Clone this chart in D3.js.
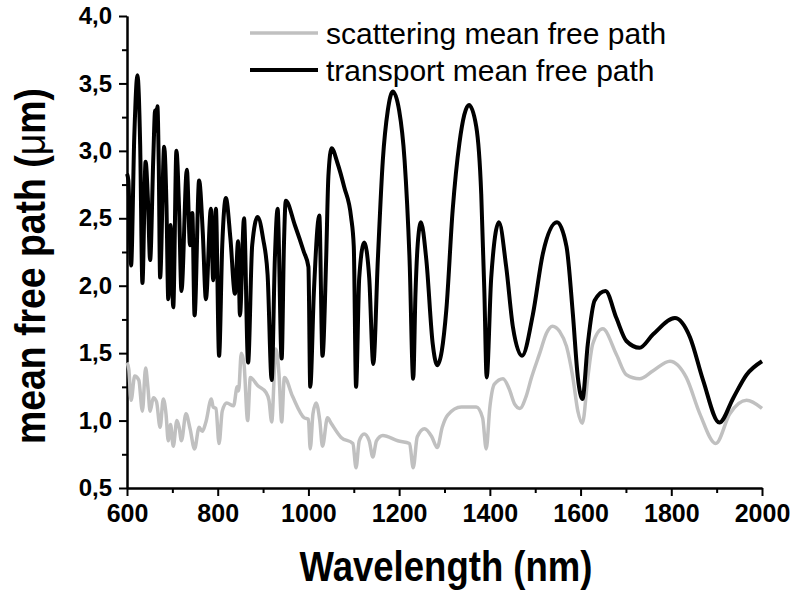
<!DOCTYPE html>
<html>
<head>
	<script src="https://cdnjs.cloudflare.com/ajax/libs/d3/7.8.5/d3.min.js"></script>
	<style>
		body {
			margin: 0 ;
			background: #ffffff ;
		}
		svg {
			display: block ;
			font-family: "Liberation Sans", Arial, sans-serif ;
		}
	</style>
</head>
<body>
	<svg id="chart"></svg>
<script>
	// wavelength (nm) and mean free path (um)
	let transportNm = [
		600, 603, 609, 616, 623, 629, 634, 641, 646, 651, 658, 662, 664, 667, 670, 673,
		682, 687, 691, 696, 702, 709, 715, 720, 732, 739, 744, 749, 759, 767, 774, 785,
		790, 796, 803, 810, 818, 828, 838, 845, 849, 858, 867, 876, 888, 900, 910, 919,
		926, 932, 941, 946, 950, 970, 990, 1000, 1004, 1012, 1024, 1031, 1039, 1044, 1051,
		1064, 1079, 1094, 1100, 1105, 1112, 1123, 1134, 1143, 1153, 1164, 1175, 1186, 1200,
		1212, 1223, 1231, 1236, 1241, 1248, 1260, 1274, 1284, 1304, 1318, 1333, 1354, 1370,
		1381, 1388, 1393, 1403, 1420, 1436, 1451, 1471, 1495, 1517, 1548, 1569, 1583, 1594,
		1604, 1616, 1631, 1655, 1679, 1701, 1730, 1760, 1808, 1841, 1870, 1906, 1937, 1966, 2000
	] ;
	let transportMfp = [
		2.83, 2.78, 2.15, 3.10, 3.56, 3.05, 2.02, 2.92, 2.65, 2.19, 2.95, 3.30, 3.15, 3.33, 2.90, 2.06,
		3.03, 2.60, 1.90, 2.45, 1.84, 3.00, 2.55, 1.96, 2.86, 2.30, 2.54, 1.78, 2.78, 2.40, 1.90, 2.57,
		2.04, 2.57, 1.48, 2.30, 2.65, 2.35, 1.94, 2.33, 1.78, 2.50, 1.43, 2.30, 2.51, 2.35, 2.08, 1.30,
		2.20, 2.57, 1.46, 2.30, 2.63, 2.45, 2.25, 2.14, 1.25, 1.95, 2.52, 1.48, 2.19, 2.81, 3.02,
		2.91, 2.73, 2.51, 2.29, 1.25, 2.06, 2.32, 2.06, 1.42, 2.19, 2.93, 3.30, 3.44, 3.30,
		2.93, 2.19, 1.31, 1.94, 2.31, 2.47, 2.19, 1.57, 1.41, 1.82, 2.56, 3.06, 3.34, 3.18,
		2.68, 1.94, 1.32, 2.06, 2.47, 2.14, 1.69, 1.48, 1.79, 2.24, 2.47, 2.29, 1.79, 1.32,
		1.16, 1.57, 1.89, 1.96, 1.76, 1.59, 1.54, 1.64, 1.76, 1.62, 1.30, 0.985, 1.17, 1.34, 1.44
	] ;

	let scatteringNm = [
		600, 604, 609, 617, 626, 634, 641, 646, 651, 658, 665, 673, 680, 686, 691, 696,
		702, 710, 715, 720, 730, 739, 749, 759, 766, 774, 786, 790, 796, 803, 810, 820,
		835, 843, 846, 852, 858, 866, 872, 888, 906, 913, 919, 928, 935, 941, 947, 965,
		991, 1000, 1004, 1010, 1017, 1025, 1031, 1042, 1050, 1072, 1098, 1105, 1112, 1123,
		1134, 1142, 1150, 1164, 1197, 1223, 1231, 1240, 1256, 1272, 1284, 1295, 1307, 1337,
		1370, 1384, 1392, 1400, 1410, 1429, 1442, 1455, 1466, 1480, 1491, 1510, 1525, 1538,
		1554, 1569, 1583, 1594, 1604, 1616, 1627, 1649, 1679, 1701, 1730, 1760, 1797, 1833,
		1863, 1898, 1929, 1966, 2000
	] ;
	let scatteringMfp = [
		1.43, 1.38, 1.15, 1.33, 1.30, 1.07, 1.39, 1.25, 1.07, 1.17, 1.14, 0.95, 1.16, 1.05, 0.85, 0.97,
		0.81, 1.00, 0.95, 0.85, 1.05, 0.94, 0.79, 0.95, 0.92, 0.99, 1.16, 1.10, 1.09, 0.83, 1.07, 1.13,
		1.11, 1.25, 1.22, 1.50, 1.42, 1.00, 1.32, 1.26, 1.21, 1.15, 0.99, 1.53, 1.35, 0.99, 1.32, 1.18,
		1.02, 1.01, 0.79, 1.05, 1.13, 1.00, 0.81, 1.02, 0.98, 0.875, 0.83, 0.65, 0.85, 0.90,
		0.85, 0.73, 0.85, 0.89, 0.85, 0.83, 0.65, 0.88, 0.94, 0.88, 0.80, 0.95, 1.04, 1.10,
		1.10, 1.02, 0.79, 1.10, 1.27, 1.31, 1.24, 1.12, 1.09, 1.18, 1.31, 1.50, 1.65, 1.70,
		1.66, 1.55, 1.32, 1.07, 0.98, 1.32, 1.57, 1.68, 1.49, 1.34, 1.31, 1.37, 1.44, 1.32,
		1.05, 0.83, 1.05, 1.15, 1.09
	] ;

	let xMajorTicks = [600, 800, 1000, 1200, 1400, 1600, 1800, 2000] ;
	let xMinorTicks = [700, 900, 1100, 1300, 1500, 1700, 1900] ;
	let yMajorTicks = [0.5, 1.0, 1.5, 2.0, 2.5, 3.0, 3.5, 4.0] ;
	let yMinorTicks = [0.75, 1.25, 1.75, 2.25, 2.75, 3.25, 3.75] ;

	let seriesNames = [ 'scattering mean free path', 'transport mean free path' ] ;
	let seriesColors = [ '#c0c0c0', '#000000' ] ;
</script>
<script>
	let geom = {
		width: 791,
		height: 592,
		left: 127,
		right: 762,
		top: 16,
		bottom: 488
	} ;

	let scales = {
		x: d3.scaleLinear()
			.domain( [600, 2000] )
			.range( [ geom.left, geom.right ] ),
		y: d3.scaleLinear()
			.domain( [0.5, 4.0] )
			.range( [ geom.bottom, geom.top ] )
	} ;

	// comma as decimal separator
	let fmt = d3.formatLocale( {
		decimal: ',', thousands: '.', grouping: [3], currency: ['', '']
	} ).format( '.1f' ) ;

	let svg = d3.select( '#chart' )
		.attr( 'width', geom.width )
		.attr( 'height', geom.height ) ;

	// minor ticks first, then the major axes on top
	svg.append( 'g' )
		.attr( 'transform', 'translate(0,' + geom.bottom + ')' )
		.call( d3.axisBottom( scales.x ).tickValues( xMinorTicks ).tickSize( 5 ).tickSizeOuter( 0 ).tickFormat( '' ) ) ;
	svg.append( 'g' )
		.attr( 'transform', 'translate(' + geom.left + ',0)' )
		.call( d3.axisLeft( scales.y ).tickValues( yMinorTicks ).tickSize( 5 ).tickSizeOuter( 0 ).tickFormat( '' ) ) ;

	let xaxis = svg.append( 'g' )
		.attr( 'class', 'xaxis' )
		.attr( 'transform', 'translate(0,' + geom.bottom + ')' )
		.call( d3.axisBottom( scales.x ).tickValues( xMajorTicks ).tickSize( 8 ).tickSizeOuter( 0 ).tickPadding( 8 ).tickFormat( d3.format( 'd' ) ) ) ;
	let yaxis = svg.append( 'g' )
		.attr( 'class', 'yaxis' )
		.attr( 'transform', 'translate(' + geom.left + ',0)' )
		.call( d3.axisLeft( scales.y ).tickValues( yMajorTicks ).tickSize( 8 ).tickSizeOuter( 0 ).tickPadding( 7 ).tickFormat( fmt ) ) ;

	svg.selectAll( '.domain, .tick line' )
		.attr( 'stroke', '#000' )
		.attr( 'stroke-width', 2 ) ;
	svg.selectAll( '.tick text' )
		.attr( 'fill', '#000' )
		.style( 'font-weight', 'bold' ) ;
	xaxis.selectAll( '.tick text' )
		.style( 'font-size', '25px' ) ;
	yaxis.selectAll( '.tick text' )
		.style( 'font-size', '24px' ) ;

	// curves
	let line = d3.line()
		.x( d => scales.x( d[0] ) )
		.y( d => scales.y( d[1] ) )
		.curve( d3.curveMonotoneX ) ;

	let scattering = d3.zip( scatteringNm, scatteringMfp ) ;
	let transport = d3.zip( transportNm, transportMfp ) ;

	svg.append( 'path' )
		.datum( scattering )
		.attr( 'fill', 'none' )
		.attr( 'stroke', seriesColors[0] )
		.attr( 'stroke-width', 3.5 )
		.attr( 'stroke-linejoin', 'round' )
		.attr( 'd', line ) ;

	svg.append( 'path' )
		.datum( transport )
		.attr( 'fill', 'none' )
		.attr( 'stroke', seriesColors[1] )
		.attr( 'stroke-width', 4 )
		.attr( 'stroke-linejoin', 'round' )
		.attr( 'd', line ) ;

	// legend
	let legend = svg.append( 'g' )
		.attr( 'transform', 'translate(250,33)' ) ;
	seriesNames.forEach( function( name, i ) {
		legend.append( 'line' )
			.attr( 'x1', 0 ).attr( 'x2', 68 )
			.attr( 'y1', i * 37 ).attr( 'y2', i * 37 )
			.attr( 'stroke', seriesColors[i] )
			.attr( 'stroke-width', i == 0 ? 3.5 : 4 ) ;
		legend.append( 'text' )
			.attr( 'x', 76 )
			.attr( 'y', i * 37 + 11 )
			.style( 'font-size', '30px' )
			.text( name ) ;
	} ) ;

	// axis titles
	svg.append( 'text' )
		.attr( 'transform', 'translate(446,581) scale(0.87,1)' )
		.attr( 'text-anchor', 'middle' )
		.style( 'font-size', '42px' )
		.style( 'font-weight', 'bold' )
		.text( 'Wavelength (nm)' ) ;

	let ytitle = svg.append( 'text' )
		.attr( 'transform', 'translate(45,266) rotate(-90) scale(0.89,1)' )
		.attr( 'text-anchor', 'middle' )
		.style( 'font-size', '42px' )
		.style( 'font-weight', 'bold' ) ;
	ytitle.append( 'tspan' ).text( 'mean free path (' ) ;
	ytitle.append( 'tspan' ).style( 'font-weight', 'normal' ).text( 'μ' ) ;
	ytitle.append( 'tspan' ).text( 'm)' ) ;
</script>
</body>
</html>
